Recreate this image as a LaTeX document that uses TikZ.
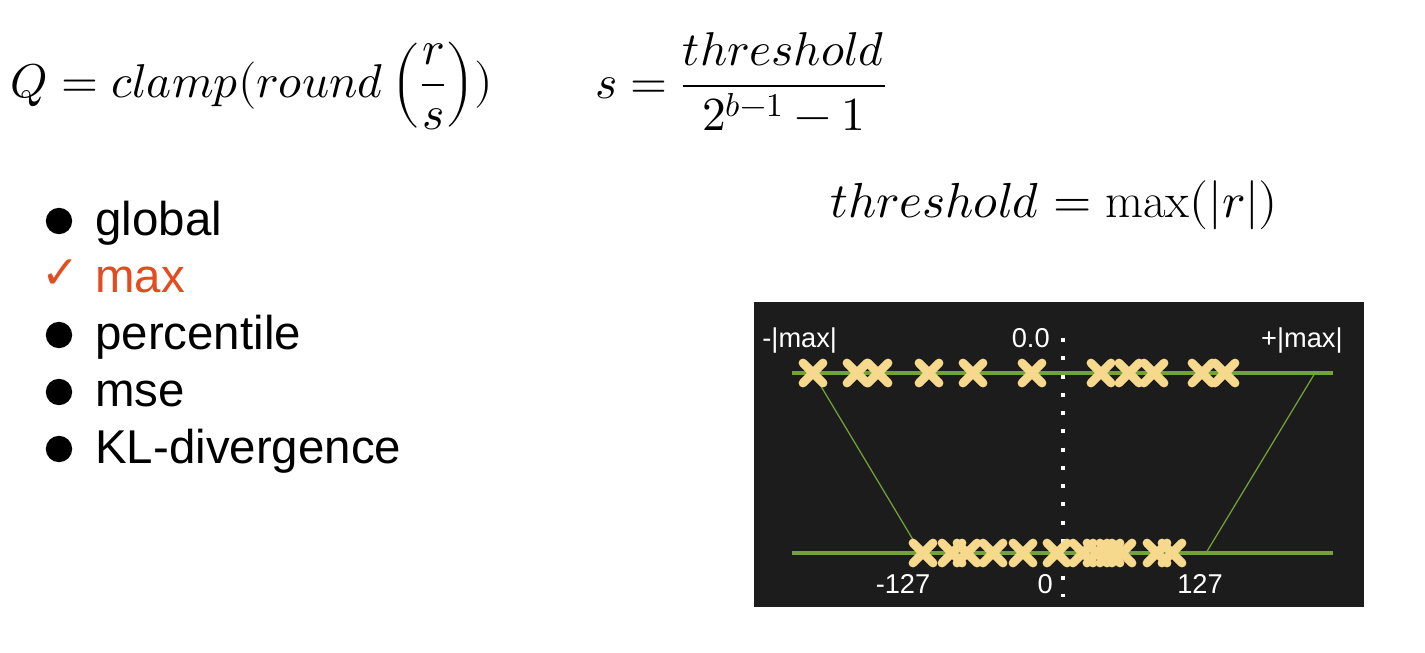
\documentclass[tikz,border=0pt]{standalone}
\usepackage{amsmath}
\usepackage{fontspec}
\usepackage{unicode-math}
\setmathfont{Latin Modern Math}
\newfontfamily\arialfont{Liberation Sans}
\newfontfamily\symbfont{DejaVu Sans}
\usetikzlibrary{shapes.misc}

\definecolor{panelbg}{HTML}{1C1C1C}
\definecolor{axisgreen}{HTML}{73A23A}
\definecolor{crossyellow}{HTML}{F6D98C}
\definecolor{pickorange}{HTML}{E24C1E}

\begin{document}
\begin{tikzpicture}[x=0.02cm, y=-0.02cm,
  formula/.style={inner sep=0pt, anchor=base west, font=\fontsize{27}{32}\selectfont},
  item/.style={inner sep=0pt, anchor=base west, font=\arialfont\fontsize{27}{31}\selectfont},
  bullet/.style={circle, fill=black, inner sep=0pt, minimum size=15pt},
  axislabel/.style={inner sep=0pt, text=white, font=\arialfont\fontsize{15.5}{18}\selectfont},
  axisline/.style={axisgreen, line width=2.8pt},
  mapline/.style={axisgreen, line width=0.7pt},
  qcross/.style={cross out, draw=crossyellow, line width=5pt, line cap=round, minimum size=6.4pt, inner sep=0pt}]
  \useasboundingbox (0,0) rectangle (1425,652);

  % formulas
  \node[formula] (qdef) at (10,97) {$Q = clamp(round\left(\dfrac{r}{s}\right))$};
  \node[formula] (sdef) at (595,98) {$s = \dfrac{threshold}{2^{b-1}-1}$};
  \node[formula, font=\fontsize{28}{33}\selectfont] (tdef) at (830,217) {$threshold = \max(|r|)$};

  % calibration methods
  \node[bullet] (d1) at (59,221) {};
  \node[item] (global) at (95,235) {global};
  \node (tick) at (41,288) [inner sep=0pt, anchor=base west, text=pickorange, font=\symbfont\fontsize{26}{30}\selectfont] {✓};
  \node[item, text=pickorange] (max) at (95,292) {max};
  \node[bullet] (d3) at (59,335) {};
  \node[item] (percentile) at (95,349) {percentile};
  \node[bullet] (d4) at (59,392) {};
  \node[item] (mse) at (95,406) {mse};
  \node[bullet] (d5) at (59,449) {};
  \node[item] (kl) at (95,463) {KL-divergence};

  % mapping panel
  \fill[panelbg] (754,302) rectangle (1364,607);
  \draw[white, line width=2.3pt, dash pattern=on 2.3pt off 8.1pt] (1063,338) -- (1063,597);

  \coordinate (tlo) at (792,373);
  \coordinate (thi) at (1333,373);
  \coordinate (blo) at (792,553);
  \coordinate (bhi) at (1333,553);
    \draw[axisline] (tlo) -- (thi);
    \draw[axisline] (blo) -- (bhi);

  \coordinate (tmin) at (813,373);
  \coordinate (bmin) at (921,553);
  \coordinate (tmax) at (1315,373);
  \coordinate (bmax) at (1206,553);
    \draw[mapline] (tmin) -- (bmin);
    \draw[mapline] (tmax) -- (bmax);

  \foreach \xx [count=\i] in {813,857,878,929,973,1032,1101,1129,1154,1202,1225}
    \node[qcross] (t\i) at (\xx,373) {};
  \foreach \xx [count=\i] in {923,952,967,993,1023,1057,1083,1097,1110,1122,1157,1172}
    \node[qcross] (b\i) at (\xx,553) {};

  \node[axislabel, anchor=base west] (negmax) at (762,347) {-|max|};
  \node[axislabel, anchor=base east] (zerof) at (1050,347) {0.0};
  \node[axislabel, anchor=base east] (posmax) at (1343,347) {+|max|};
  \node[axislabel, anchor=base] (neg127) at (903,593) {-127};
  \node[axislabel, anchor=base east] (zeroq) at (1053,593) {0};
  \node[axislabel, anchor=base] (pos127) at (1200,593) {127};

\end{tikzpicture}
\end{document}
